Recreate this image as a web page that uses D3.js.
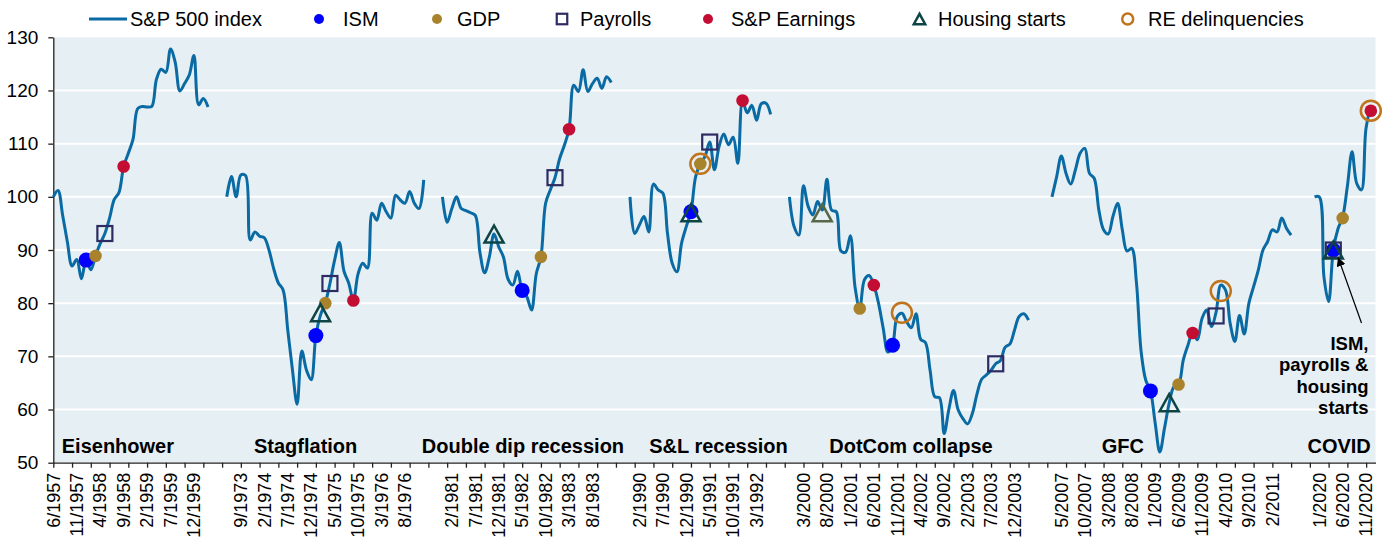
<!DOCTYPE html>
<html lang="en">
  <head>
    <meta charset="utf-8">
    <title>S&amp;P 500 through recessions</title>
    <script src="https://d3js.org/d3.v7.min.js"></script>
    <style>
      body { margin: 0; background: #ffffff; }
      svg text { font-family: "Liberation Sans", Arial, sans-serif; fill: #000; }
    </style>
  </head>
  <body>
    <div id="chart"></div>
    <script type="text/javascript">
      // episodes, first month of each, blank months between them
      const episodes = ["Eisenhower", "Stagflation", "Double dip recession", "S&L recession",
                        "DotCom collapse", "GFC", "COVID"];
      const episodeStarts = ["6/1957", "6/1973", "12/1980", "12/1989", "12/1999", "3/2007", "12/2019"];
      const gapAfter = [3, 3, 3, 3, 4, 4];

      // S&P 500 index, rebased to 100, monthly
      const eisenhower = [100, 101.2, 96.5, 91.5, 87.0, 88.2, 84.6, 88.1, 86.3, 88.9, 91.2, 93.1, 96.0,
                          99.5, 100.8, 105.7, 108.2, 110.8, 116.6, 117.0, 116.9, 117.0, 122.1, 124.0,
                          123.4, 127.8, 125.3, 119.9, 121.3, 122.9, 126.6, 117.3, 118.5, 116.9];
      const stagflation = [100, 103.8, 100.0, 104.1, 104.0, 91.9, 93.4, 92.6, 92.3, 90.0, 86.5, 83.8,
                           82.5, 75.0, 67.5, 61.0, 71.0, 67.4, 65.6, 73.9, 77.8, 80.0, 83.7, 88.1, 91.4,
                           86.0, 83.8, 80.5, 85.5, 87.5, 86.6, 96.9, 95.6, 98.8, 97.2, 96.0, 100.3, 99.4,
                           98.8, 101.0, 98.8, 97.8, 103.2];
      const doubleDip = [100, 95.2, 97.8, 100.0, 97.8, 97.4, 97.0, 96.5, 89.5, 85.7, 88.7, 93.0, 90.6,
                         88.7, 84.5, 83.4, 86.0, 82.4, 81.2, 78.7, 85.5, 88.7, 98.8, 101.3, 103.6, 107.2,
                         109.7, 112.7, 121.0, 119.8, 123.9, 119.8, 121.3, 122.3, 120.4, 122.6, 121.5];
      const savingsLoan = [100, 93.1, 94.7, 96.3, 93.4, 102.4, 101.3, 100.7, 93.1, 87.5, 85.9, 91.3, 94.4,
                           97.2, 103.8, 106.2, 107.6, 110.3, 105.1, 109.5, 111.8, 109.8, 111.2, 106.3,
                           118.1, 115.8, 117.2, 114.4, 117.5, 117.6, 115.5];
      const dotCom = [100, 94.4, 92.8, 102.1, 98.2, 96.6, 99.1, 97.5, 103.3, 97.5, 97.2, 89.8, 89.6, 92.7,
                      83.0, 79.0, 84.4, 85.2, 83.4, 80.0, 75.3, 70.8, 72.1, 77.5, 78.1, 76.5, 75.4, 78.0,
                      73.2, 72.6, 67.4, 62.4, 62.2, 55.5, 60.0, 63.6, 59.9, 58.3, 57.3, 59.2, 62.9, 65.7,
                      66.5, 67.4, 68.6, 69.2, 71.7, 72.3, 74.9, 77.5, 78.0, 76.8];
      const gfc = [100, 103.8, 107.7, 104.4, 102.4, 105.1, 108.2, 109.1, 104.4, 103.5, 97.5, 93.8, 93.0,
                   96.3, 98.8, 93.8, 89.8, 90.3, 84.0, 71.0, 65.5, 63.5, 57.5, 52.0, 56.5, 61.2, 64.3, 64.7,
                   69.3, 72.1, 74.4, 73.1, 77.1, 78.7, 75.6, 78.3, 83.4, 82.5, 76.2, 72.8, 77.7, 74.2, 80.0,
                   83.1, 86.2, 90.0, 91.6, 93.8, 93.4, 96.0, 94.1, 92.8];
      const covid = [100, 100, 85.0, 80.3, 90.0, 94.0, 96.2, 102.0, 108.5, 102.5, 101.3, 113.0, 116.2, 115.5];

      // turning points of each indicator: [month, index level]
      const ismPoints = [["1/1958", 88.1], ["1/1975", 73.9], ["5/1982", 82.4], ["1/1991", 97.2],
                         ["10/2001", 72.1], ["12/2008", 63.5], ["4/2020", 90.0]];
      const gdpPoints = [["3/1958", 88.9], ["3/1975", 80.0], ["9/1982", 88.7], ["3/1991", 106.2],
                         ["3/2001", 79.0], ["6/2009", 64.7], ["6/2020", 96.0]];
      const payrollPoints = [["5/1958", 93.1], ["4/1975", 83.7], ["12/1982", 103.6], ["5/1991", 110.3],
                             ["8/2003", 68.6], ["2/2010", 77.6], ["4/2020", 90.0]];
      const earningsPoints = [["9/1958", 105.7], ["9/1975", 80.5], ["3/1983", 112.7], ["12/1991", 118.1],
                              ["6/2001", 83.4], ["9/2009", 74.4], ["12/2020", 116.2]];
      const housingPoints = [["2/1975", 78.2], ["11/1981", 93.0], ["1/1991", 97.0], ["7/2000", 97.0],
                             ["4/2009", 61.3], ["4/2020", 90.0]];
      const reDelinqPoints = [["3/1991", 106.2], ["12/2001", 78.2], ["3/2010", 82.3], ["12/2020", 116.2]];

      const yTicks = [50, 60, 70, 80, 90, 100, 110, 120, 130];
      const legendNames = ["S&P 500 index", "ISM", "GDP", "Payrolls", "S&P Earnings", "Housing starts", "RE delinquencies"];
      const noteLines = ["ISM,", "payrolls &", "housing", "starts"];

      function chart() {
          let svgWidth = 1384, svgHeight = 540;
          let margin = { top: 37.3, right: 8.5, bottom: 77.3, left: 53.3 },
              width = svgWidth - margin.left - margin.right,
              height = svgHeight - margin.top - margin.bottom;

          const lineColor = "#0a6aa3";
          const styles = {
              ism:      { shape: "dot",      fill: "#0000ff", r: 7.5 },
              gdp:      { shape: "dot",      fill: "#a8832b", r: 6.3 },
              payrolls: { shape: "square",   stroke: "#2e2b63", size: 15 },
              earnings: { shape: "dot",      fill: "#c40d32", r: 6.3 },
              housing:  { shape: "triangle", stroke: "#0e4444", size: 19 },
              re:       { shape: "ring",     stroke: "#c0741c", r: 10 }
          };
          const housingAlt = { "7/2000": "#566848" };

          // month categories, blanks between episodes
          function monthsFrom(start, n) {
              let [m, yr] = start.split("/").map(Number);
              let out = [];
              for (let k = 0; k < n; k++) {
                  out.push(m + "/" + yr);
                  m += 1;
                  if (m > 12) { m = 1; yr += 1; }
              }
              return out;
          }

          const series = [eisenhower, stagflation, doubleDip, savingsLoan, dotCom, gfc, covid];
          let categories = [], points = [];
          series.forEach((vals, e) => {
              monthsFrom(episodeStarts[e], vals.length).forEach((label, k) => {
                  categories.push(label);
                  points.push({ i: categories.length - 1, value: vals[k] });
              });
              if (e < gapAfter.length) {
                  for (let g = 0; g < gapAfter[e]; g++) {
                      categories.push("");
                      points.push({ i: categories.length - 1, value: null });
                  }
              }
          });
          const catIndex = new Map();
          categories.forEach((c, i) => { if (c) catIndex.set(c, i); });

          let svg = d3.select("#chart")
              .append("svg")
              .attr("width", svgWidth)
              .attr("height", svgHeight);

          let g = svg.append("g")
              .attr("transform", "translate(" + margin.left + "," + margin.top + ")");

          let x = d3.scaleLinear()
              .domain([0, categories.length - 1])
              .range([0, width]);

          let y = d3.scaleLinear()
              .domain([50, 130])
              .range([height, 0]);

          g.append("rect")
              .attr("x", 0)
              .attr("y", 0)
              .attr("width", width)
              .attr("height", height)
              .attr("fill", "#e6eff3");

          g.selectAll("line.grid")
              .data(yTicks.filter(t => t > 50 && t < 130))
              .join("line")
              .attr("class", "grid")
              .attr("x1", 0)
              .attr("x2", width)
              .attr("y1", d => y(d))
              .attr("y2", d => y(d))
              .attr("stroke", "#ffffff")
              .attr("stroke-width", 2);

          // y axis
          let yAxis = g.append("g")
              .call(d3.axisLeft(y).tickValues(yTicks).tickSize(5).tickSizeOuter(0).tickPadding(10));
          yAxis.select(".domain").attr("stroke", "#222").attr("stroke-width", 1.3);
          yAxis.selectAll(".tick line").attr("stroke", "#222").attr("stroke-width", 1.3);
          yAxis.selectAll(".tick text")
              .style("font-family", "'Liberation Sans', Arial, sans-serif")
              .style("font-size", "19px")
              .attr("fill", "#000");

          // x axis: ticks every 4 months, labels every 5
          let xAxis = g.append("g")
              .attr("transform", "translate(0," + height + ")")
              .call(d3.axisBottom(x)
                  .tickValues(d3.range(0, categories.length, 4))
                  .tickSize(5)
                  .tickSizeOuter(0)
                  .tickFormat(""));
          xAxis.select(".domain").attr("stroke", "#222").attr("stroke-width", 1.3);
          xAxis.selectAll(".tick line").attr("stroke", "#222").attr("stroke-width", 1.3);

          g.append("g")
              .selectAll("text")
              .data(categories.map((c, i) => ({ c, i })).filter(d => d.i % 5 === 0 && d.c))
              .join("text")
              .attr("transform", d => "translate(" + x(d.i) + "," + (height + 10) + ") rotate(-90)")
              .attr("dy", "0.35em")
              .attr("text-anchor", "end")
              .style("font-size", "18px")
              .text(d => d.c);

          // the index line, broken between episodes
          let line = d3.line()
              .defined(d => d.value !== null)
              .x(d => x(d.i))
              .y(d => y(d.value))
              .curve(d3.curveCatmullRom.alpha(0.5));

          g.append("path")
              .datum(points)
              .attr("d", line)
              .attr("fill", "none")
              .attr("stroke", lineColor)
              .attr("stroke-width", 3)
              .attr("stroke-linejoin", "round");

          // episode names
          const nameAt = [1.8, 42.8, 78.6, 127.1, 165.5, 223.6, 281];
          g.selectAll("text.episode")
              .data(episodes)
              .join("text")
              .attr("class", "episode")
              .attr("x", (d, i) => x(nameAt[i]))
              .attr("y", height - 10)
              .attr("text-anchor", (d, i) => i === episodes.length - 1 ? "end" : "start")
              .style("font-size", "20px")
              .style("font-weight", "bold")
              .text(d => d);

          function drawMarker(sel, st, color) {
              if (st.shape === "dot") {
                  sel.append("circle").attr("r", st.r).attr("fill", color || st.fill);
              } else if (st.shape === "ring") {
                  sel.append("circle").attr("r", st.r).attr("fill", "none")
                      .attr("stroke", color || st.stroke).attr("stroke-width", 2.5);
              } else if (st.shape === "square") {
                  sel.append("rect").attr("x", -st.size / 2).attr("y", -st.size / 2)
                      .attr("width", st.size).attr("height", st.size)
                      .attr("fill", "none").attr("stroke", color || st.stroke).attr("stroke-width", 2.2);
              } else {
                  let w = st.size, h = st.size * 0.9;
                  sel.append("path")
                      .attr("d", "M0," + (-h / 2) + "L" + (w / 2) + "," + (h / 2) + "L" + (-w / 2) + "," + (h / 2) + "Z")
                      .attr("fill", "none").attr("stroke", color || st.stroke)
                      .attr("stroke-width", 2.5).attr("stroke-linejoin", "miter");
              }
          }

          const markerSets = [
              ["ism", ismPoints], ["gdp", gdpPoints], ["payrolls", payrollPoints],
              ["earnings", earningsPoints], ["housing", housingPoints], ["re", reDelinqPoints]
          ];
          markerSets.forEach(([key, pts]) => {
              pts.forEach(([date, v]) => {
                  let m = g.append("g")
                      .attr("transform", "translate(" + x(catIndex.get(date)) + "," + y(v) + ")");
                  drawMarker(m, styles[key], key === "housing" ? housingAlt[date] : null);
              });
          });

          // note and arrow for the COVID cluster
          let noteX = x(categories.length - 1) - 7,
              noteY = y(71.2);
          g.selectAll("text.note")
              .data(noteLines)
              .join("text")
              .attr("class", "note")
              .attr("x", noteX)
              .attr("y", (d, i) => noteY + i * 21.4)
              .attr("text-anchor", "end")
              .style("font-size", "18.5px")
              .style("font-weight", "bold")
              .text(d => d);

          svg.append("defs").append("marker")
              .attr("id", "arrow")
              .attr("viewBox", "0 0 10 10")
              .attr("refX", 9)
              .attr("refY", 5)
              .attr("markerWidth", 9)
              .attr("markerHeight", 9)
              .attr("markerUnits", "userSpaceOnUse")
              .attr("orient", "auto")
              .append("path")
              .attr("d", "M0,0L10,5L0,10Z")
              .attr("fill", "#000");

          let tip = [x(catIndex.get("4/2020")) + 5, y(90) + 8];
          g.append("line")
              .attr("x1", noteX - 7)
              .attr("y1", noteY - 27)
              .attr("x2", tip[0])
              .attr("y2", tip[1])
              .attr("stroke", "#000")
              .attr("stroke-width", 1.2)
              .attr("marker-end", "url(#arrow)");

          // legend
          const legendMarkX = [89, 319, 437, 562, 708, 919.5, 1127.7];
          const legendTextX = [130, 343, 457, 580, 731, 938, 1148];
          const legendKeys = [null, "ism", "gdp", "payrolls", "earnings", "housing", "re"];
          const legendScale = { dot: 0.7, ring: 0.55, square: 0.7, triangle: 0.6 };
          let legend = svg.append("g");
          legendNames.forEach((name, i) => {
              if (i === 0) {
                  legend.append("line")
                      .attr("x1", legendMarkX[0]).attr("x2", legendMarkX[0] + 38)
                      .attr("y1", 19).attr("y2", 19)
                      .attr("stroke", lineColor).attr("stroke-width", 3);
              } else {
                  let st = Object.assign({}, styles[legendKeys[i]]);
                  let k = legendScale[st.shape];
                  if (st.r) st.r = st.r * k;
                  if (st.size) st.size = st.size * k;
                  if (st.shape === "dot") st.r = 5;
                  let m = legend.append("g").attr("transform", "translate(" + legendMarkX[i] + ",19)");
                  drawMarker(m, st);
              }
              legend.append("text")
                  .attr("x", legendTextX[i])
                  .attr("y", 26)
                  .style("font-size", "20px")
                  .text(name);
          });
      }

      chart();
    </script>
  </body>
</html>
